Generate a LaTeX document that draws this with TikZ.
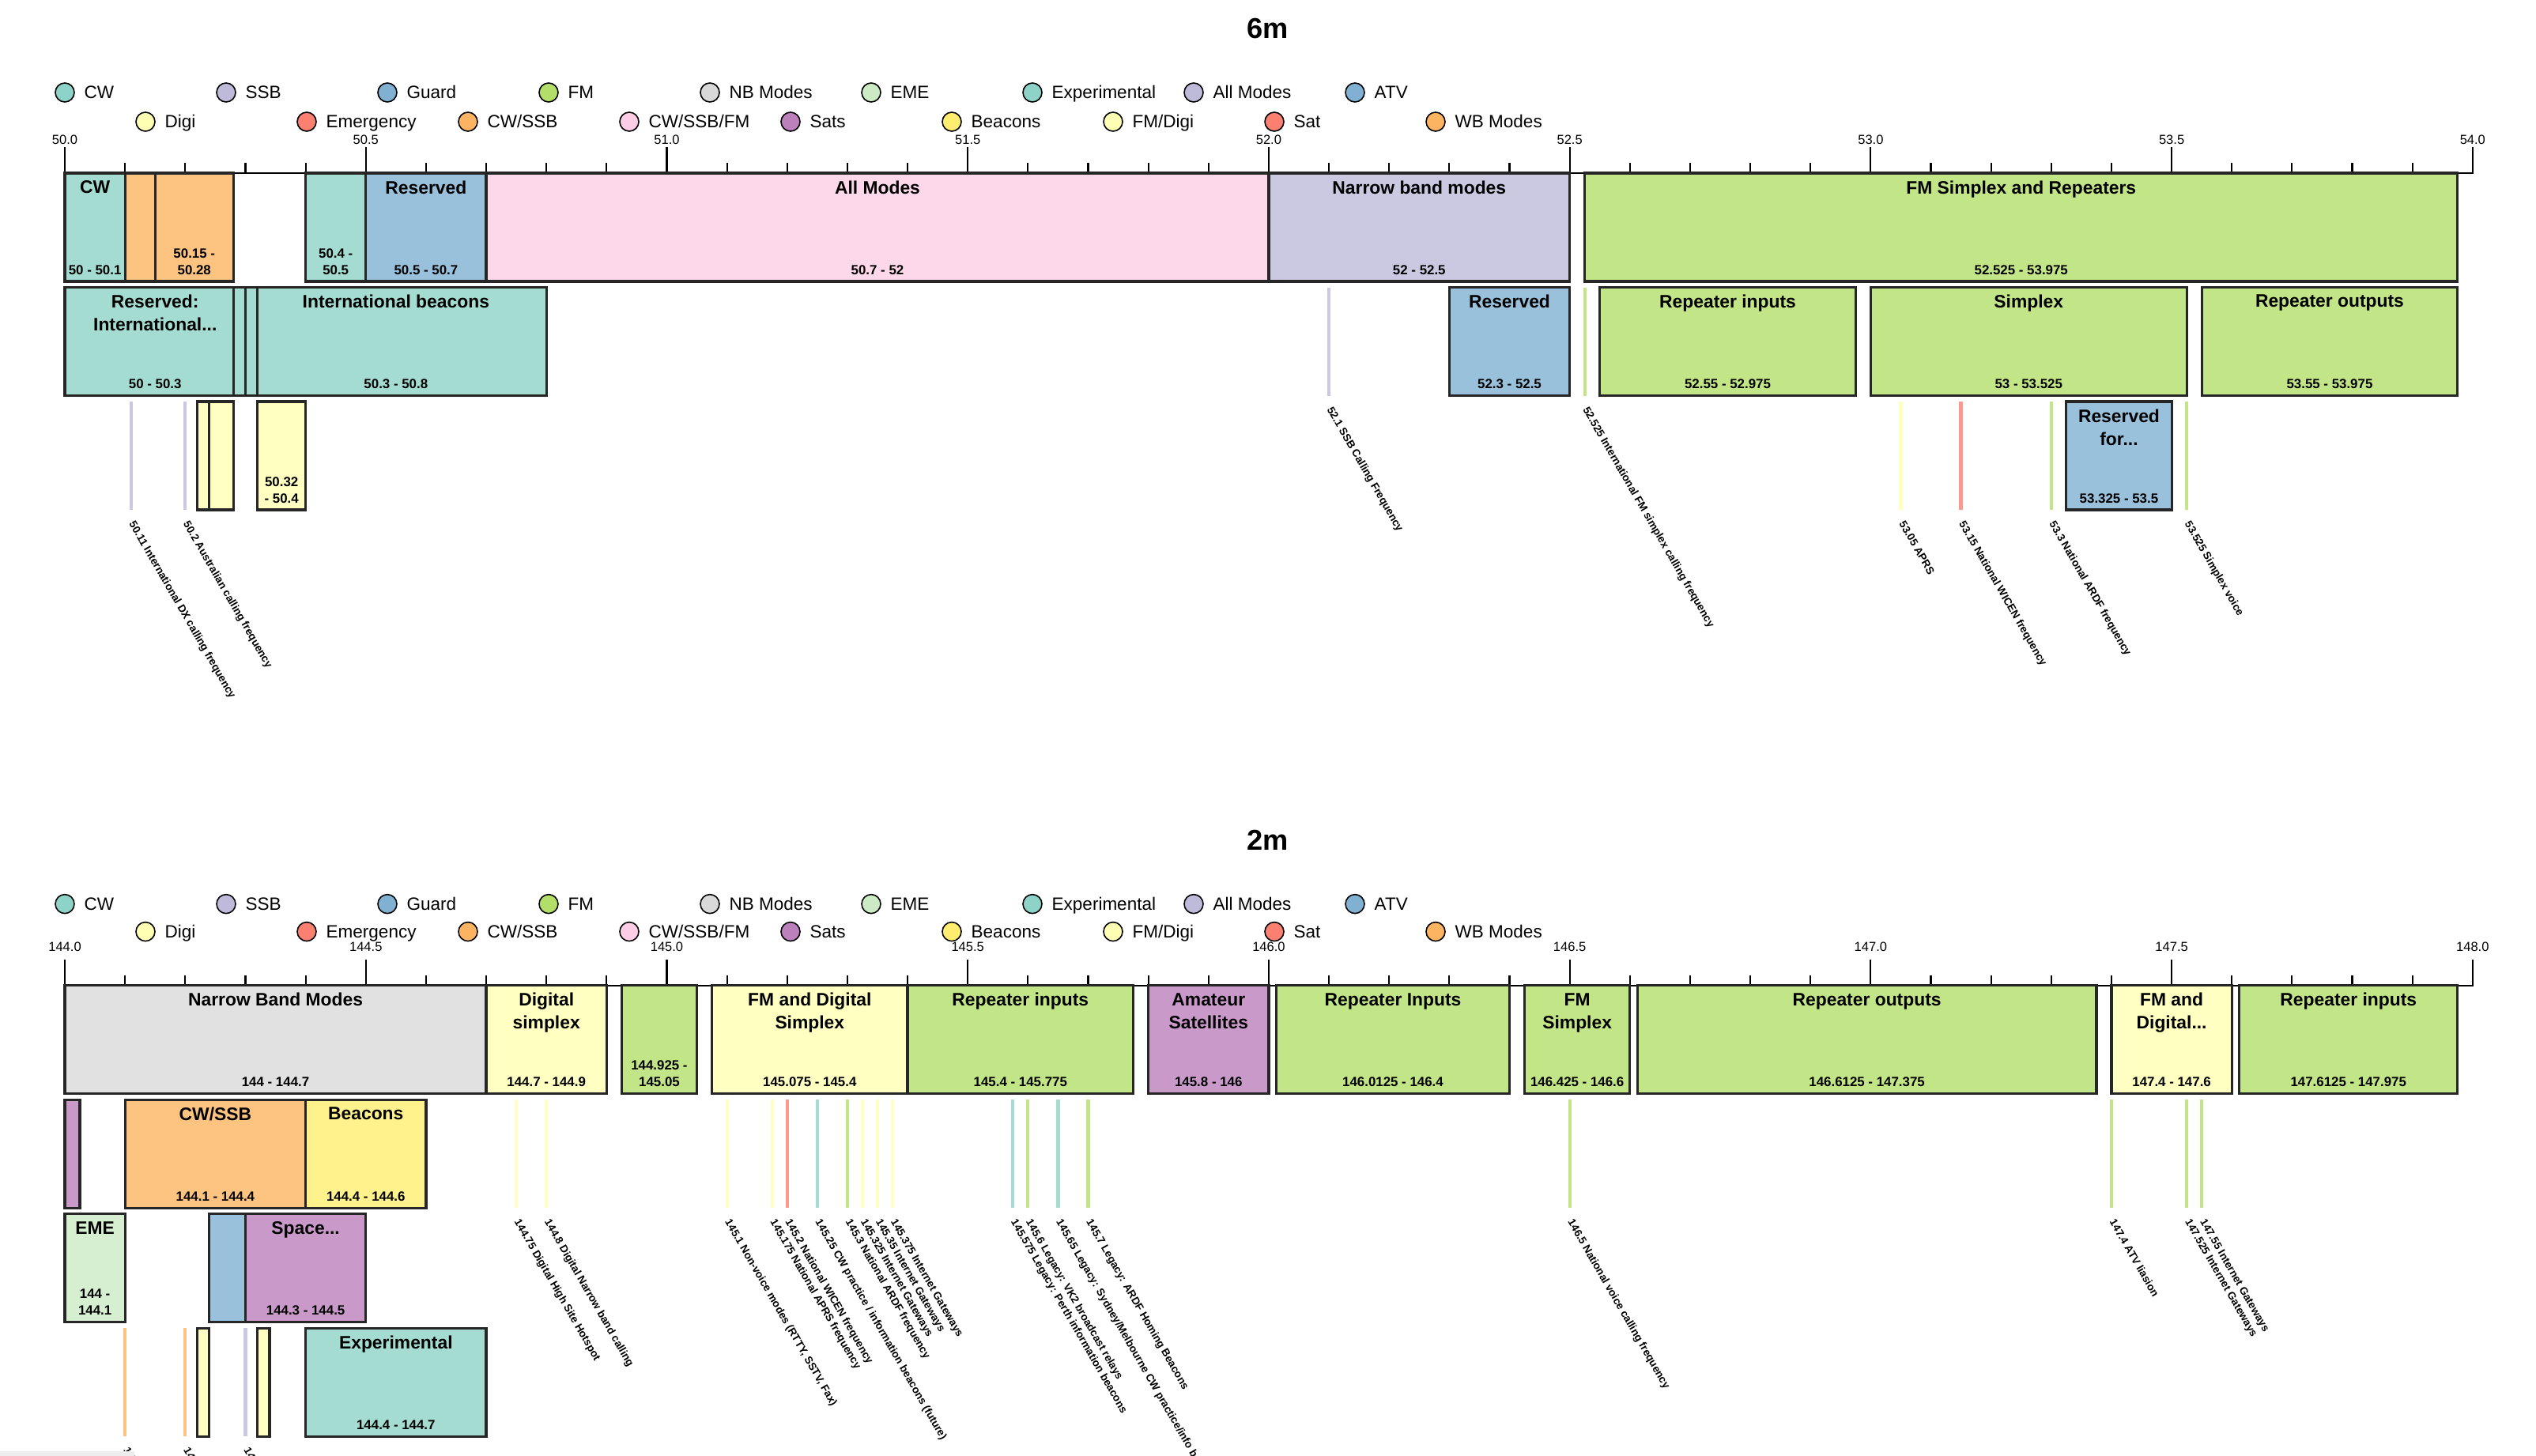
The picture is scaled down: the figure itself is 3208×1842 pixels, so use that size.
\documentclass[tikz,border=0pt]{standalone}
\usepackage{fontspec}
\setmainfont{Liberation Sans}
\usetikzlibrary{positioning}

\definecolor{sTeal}{HTML}{8DD3C7}
\definecolor{sLYellow}{HTML}{FFFFB3}
\definecolor{sLav}{HTML}{BEBADA}
\definecolor{sSalmon}{HTML}{FB8072}
\definecolor{sBlue}{HTML}{80B1D3}
\definecolor{sOrange}{HTML}{FDB462}
\definecolor{sGreen}{HTML}{B3DE69}
\definecolor{sPink}{HTML}{FCCDE5}
\definecolor{sGrey}{HTML}{D9D9D9}
\definecolor{sPurple}{HTML}{BC80BD}
\definecolor{sMint}{HTML}{CCEBC5}
\definecolor{sYellow}{HTML}{FFED6F}

\newcommand{\band}[7]{%
  \draw[bandbox, fill=#5!80] ({#2-\fb},#4) rectangle ({#3-\fb},#4+137);
  \node[bandtitle] (#1) at ({(#2+#3)/2-\fb},#4+9) {#6};
  \node[bandrange] (#1-r) at ({(#2+#3)/2-\fb},#4+129) {#7};
}
\newcommand{\spot}[5]{%
  \draw[spotline, draw=#3!80] ({#1-\fb},#2) -- ({#1-\fb},#2+137);
  \node[spotlabel] (#4) at ({#1-\fb+0.008},#2+149) {#5};
}
\newcommand{\legitem}[5]{%
  \node[legdot, fill=#4] (#1) at (#2,#3) {};
  \node[legtext] (#1-t) at (#2+24,#3+7.5) {#5};
}
\newcommand{\drawlegend}[3]{%
  \legitem{#1cw}{82}{#2}{sTeal}{CW}
  \legitem{#1digi}{184}{#3}{sLYellow}{Digi}
  \legitem{#1ssb}{286}{#2}{sLav}{SSB}
  \legitem{#1emg}{388}{#3}{sSalmon}{Emergency}
  \legitem{#1guard}{490}{#2}{sBlue}{Guard}
  \legitem{#1cwssb}{592}{#3}{sOrange}{CW/SSB}
  \legitem{#1fm}{694}{#2}{sGreen}{FM}
  \legitem{#1cwssbfm}{796}{#3}{sPink}{CW/SSB/FM}
  \legitem{#1nb}{898}{#2}{sGrey}{NB Modes}
  \legitem{#1sats}{1000}{#3}{sPurple}{Sats}
  \legitem{#1eme}{1102}{#2}{sMint}{EME}
  \legitem{#1bcn}{1204}{#3}{sYellow}{Beacons}
  \legitem{#1exp}{1306}{#2}{sTeal}{Experimental}
  \legitem{#1fmdigi}{1408}{#3}{sLYellow}{FM/Digi}
  \legitem{#1all}{1510}{#2}{sLav}{All Modes}
  \legitem{#1sat}{1612}{#3}{sSalmon}{Sat}
  \legitem{#1atv}{1714}{#2}{sBlue}{ATV}
  \legitem{#1wb}{1816}{#3}{sOrange}{WB Modes}
}
\newcommand{\drawaxis}[2]{%
  \draw[axisline] (0,186) -- (0,219) -- (4,219) -- (4,186);
  \foreach \i in {1,...,39} \draw[axisline] (\i/10,206) -- (\i/10,219);
  \foreach \i in {1,...,7} \draw[axisline] (\i/2,186) -- (\i/2,219);
  \foreach \i in {0,...,8} {
    \pgfmathsetmacro\lab{\fb+\i/2}
    \node[ticklabel] (#1tick\i) at (\i/2,#2) {\pgfmathprintnumber[fixed,fixed zerofill,precision=1,assume math mode=true]{\lab}};
  }
}

\begin{document}
\begin{tikzpicture}[x=0.01cm, y=-0.01cm]
    \tikzstyle{bandbox}=[draw=black!85, line width=0.9pt]
    \tikzstyle{bandtitle}=[anchor=north, inner sep=0pt, align=center, font=\fontsize{6.5}{8.25}\selectfont\bfseries]
    \tikzstyle{bandrange}=[anchor=south, inner sep=0pt, align=center, font=\fontsize{4.8}{6}\selectfont\bfseries]
    \tikzstyle{spotline}=[line width=1.2pt]
    \tikzstyle{spotlabel}=[rotate=-60, anchor=north west, inner sep=0pt, font=\fontsize{3.85}{4.5}\selectfont\bfseries]
    \tikzstyle{legdot}=[circle, draw=black, line width=0.45pt, minimum size=0.24cm, inner sep=0pt]
    \tikzstyle{legtext}=[anchor=base west, inner sep=0pt, font=\fontsize{6.4}{7.5}\selectfont]
    \tikzstyle{axisline}=[line width=0.6pt]
    \tikzstyle{ticklabel}=[anchor=base, inner sep=0pt, font=\fontsize{4.7}{5.5}\selectfont]
    \tikzstyle{bandname}=[anchor=base, inner sep=0pt, font=\fontsize{10.3}{12}\selectfont\bfseries]

    \useasboundingbox (0,0) rectangle (3208,1842);
    \clip (0,0) rectangle (3208,1842);

    % 6m
    \begin{scope}
    \def\fb{50}
    \node[bandname] (title6m) at (1604,48) {6m};
    \drawlegend{six}{117}{154}
    \begin{scope}[x=7.61cm, xshift=0.82cm]
    \drawaxis{six}{182}
    \band{sixCW}{50}{50.1}{219}{sTeal}{CW}{50 - 50.1}
    \band{sixCWSSBa}{50.1}{50.15}{219}{sOrange}{}{}
    \band{sixCWSSBb}{50.15}{50.28}{219}{sOrange}{}{50.15 -\\50.28}
    \band{sixExp}{50.4}{50.5}{219}{sTeal}{}{50.4 -\\50.5}
    \band{sixRes}{50.5}{50.7}{219}{sBlue}{Reserved}{50.5 - 50.7}
    \band{sixAll}{50.7}{52}{219}{sPink}{All Modes}{50.7 - 52}
    \band{sixNB}{52}{52.5}{219}{sLav}{Narrow band modes}{52 - 52.5}
    \band{sixFM}{52.525}{53.975}{219}{sGreen}{FM Simplex and Repeaters}{52.525 - 53.975}

    \band{sixResInt}{50}{50.3}{363.5}{sTeal}{Reserved:\\International...}{50 - 50.3}
    \band{sixBcn}{50.3}{50.8}{363.5}{sTeal}{International beacons}{50.3 - 50.8}
    \band{sixBcnA}{50.28}{50.3}{363.5}{sTeal}{}{}
    \band{sixBcnB}{50.3}{50.32}{363.5}{sTeal}{}{}
    \spot{52.1}{363.5}{sLav}{sixSSBcall}{52.1 SSB Calling Frequency}
    \band{sixResB}{52.3}{52.5}{363.5}{sBlue}{Reserved}{52.3 - 52.5}
    \spot{52.525}{363.5}{sGreen}{sixFMcall}{52.525 International FM simplex calling frequency}
    \band{sixRepIn}{52.55}{52.975}{363.5}{sGreen}{Repeater inputs}{52.55 - 52.975}
    \band{sixSimp}{53}{53.525}{363.5}{sGreen}{Simplex}{53 - 53.525}
    \band{sixRepOut}{53.55}{53.975}{363.5}{sGreen}{Repeater outputs}{53.55 - 53.975}

    \spot{50.11}{508}{sLav}{sixDX}{50.11 International DX calling frequency}
    \spot{50.2}{508}{sLav}{sixAus}{50.2 Australian calling frequency}
    \band{sixDigA}{50.22}{50.24}{508}{sLYellow}{}{}
    \band{sixDigB}{50.24}{50.28}{508}{sLYellow}{}{}
    \band{sixDigC}{50.32}{50.4}{508}{sLYellow}{}{50.32\\- 50.4}
    \spot{53.05}{508}{sLYellow}{sixAPRS}{53.05 APRS}
    \spot{53.15}{508}{sSalmon}{sixWICEN}{53.15 National WICEN frequency}
    \spot{53.3}{508}{sGreen}{sixARDF}{53.3 National ARDF frequency}
    \band{sixResC}{53.325}{53.5}{508}{sBlue}{Reserved\\for...}{53.325 - 53.5}
    \spot{53.525}{508}{sGreen}{sixVoice}{53.525 Simplex voice}
    \end{scope}
    \end{scope}

    % 2m
    \begin{scope}[yshift=-10.27cm]
    \def\fb{144}
    \node[bandname] (title2m) at (1604,48) {2m};
    \drawlegend{two}{116}{151}
    \begin{scope}[x=7.61cm, xshift=0.82cm]
    \drawaxis{two}{176}
    \band{twoNB}{144}{144.7}{219}{sGrey}{Narrow Band Modes}{144 - 144.7}
    \band{twoDig}{144.7}{144.9}{219}{sLYellow}{Digital\\simplex}{144.7 - 144.9}
    \band{twoFMa}{144.925}{145.05}{219}{sGreen}{}{144.925 -\\145.05}
    \band{twoFMDig}{145.075}{145.4}{219}{sLYellow}{FM and Digital\\Simplex}{145.075 - 145.4}
    \band{twoRepIn}{145.4}{145.775}{219}{sGreen}{Repeater inputs}{145.4 - 145.775}
    \band{twoSat}{145.8}{146}{219}{sPurple}{Amateur\\Satellites}{145.8 - 146}
    \band{twoRepInB}{146.0125}{146.4}{219}{sGreen}{Repeater Inputs}{146.0125 - 146.4}
    \band{twoFMS}{146.425}{146.6}{219}{sGreen}{FM\\Simplex}{146.425 - 146.6}
    \band{twoRepOut}{146.6125}{147.375}{219}{sGreen}{Repeater outputs}{146.6125 - 147.375}
    \band{twoFMDigB}{147.4}{147.6}{219}{sLYellow}{FM and\\Digital...}{147.4 - 147.6}
    \band{twoRepInC}{147.6125}{147.975}{219}{sGreen}{Repeater inputs}{147.6125 - 147.975}

    \band{twoSatA}{144}{144.025}{363.5}{sPurple}{}{}
    \band{twoCWSSB}{144.1}{144.4}{363.5}{sOrange}{CW/SSB}{144.1 - 144.4}
    \band{twoBcn}{144.4}{144.6}{363.5}{sYellow}{Beacons}{144.4 - 144.6}
    \spot{144.75}{363.5}{sLYellow}{twoHot}{144.75 Digital High Site Hotspot}
    \spot{144.8}{363.5}{sLYellow}{twoNBcall}{144.8 Digital Narrow band calling}
    \spot{145.1}{363.5}{sLYellow}{twoNV}{145.1 Non-voice modes (RTTY, SSTV, Fax)}
    \spot{145.175}{363.5}{sLYellow}{twoAPRS}{145.175 National APRS frequency}
    \spot{145.2}{363.5}{sSalmon}{twoWICEN}{145.2 National WICEN frequency}
    \spot{145.25}{363.5}{sTeal}{twoCWP}{145.25 CW practice / information beacons (future)}
    \spot{145.3}{363.5}{sGreen}{twoARDF}{145.3 National ARDF frequency}
    \spot{145.325}{363.5}{sLYellow}{twoGWa}{145.325 Internet Gateways}
    \spot{145.35}{363.5}{sLYellow}{twoGWb}{145.35 Internet Gateways}
    \spot{145.375}{363.5}{sLYellow}{twoGWc}{145.375 Internet Gateways}
    \spot{145.575}{363.5}{sTeal}{twoPerth}{145.575 Legacy: Perth information beacons}
    \spot{145.6}{363.5}{sGreen}{twoVK}{145.6 Legacy: VK2 broadcast relays}
    \spot{145.65}{363.5}{sTeal}{twoSyd}{145.65 Legacy: Sydney/Melbourne CW practice/info beacons}
    \spot{145.7}{363.5}{sGreen}{twoHoming}{145.7 Legacy: ARDF Homing Beacons}
    \spot{146.5}{363.5}{sGreen}{twoVoice}{146.5 National voice calling frequency}
    \spot{147.4}{363.5}{sGreen}{twoATV}{147.4 ATV liasion}
    \spot{147.525}{363.5}{sGreen}{twoGWd}{147.525 Internet Gateways}
    \spot{147.55}{363.5}{sGreen}{twoGWe}{147.55 Internet Gateways}

    \band{twoEME}{144}{144.1}{508}{sMint}{EME}{144 -\\144.1}
    \band{twoGuard}{144.24}{144.3}{508}{sBlue}{}{}
    \band{twoSpace}{144.3}{144.5}{508}{sPurple}{Space...}{144.3 - 144.5}

    \spot{144.1}{652.5}{sOrange}{twoCWa}{144.1}
    \spot{144.2}{652.5}{sOrange}{twoCWb}{144.2}
    \band{twoDigA}{144.22}{144.24}{652.5}{sLYellow}{}{}
    \spot{144.3}{652.5}{sLav}{twoSSB}{144.3}
    \band{twoDigB}{144.32}{144.34}{652.5}{sLYellow}{}{}
    \band{twoExp}{144.4}{144.7}{652.5}{sTeal}{Experimental}{144.4 - 144.7}
    \end{scope}
    \end{scope}

    \fill[black!7] (0,1836) rectangle (170,1842);
\end{tikzpicture}
\end{document}
